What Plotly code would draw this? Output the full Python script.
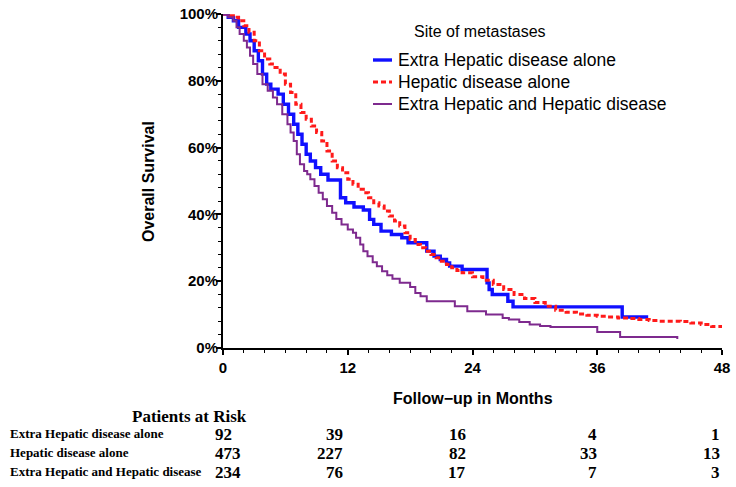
import plotly.graph_objects as go

# Kaplan-Meier estimates (months, % surviving) by site of metastases
group_names = ["Extra Hepatic disease alone", "Hepatic disease alone",
               "Extra Hepatic and Hepatic disease"]

extra_t = [0, 0.5, 1.0, 1.5, 2.2, 2.6, 3.0, 3.4, 3.8, 4.2, 4.6, 5.3, 5.8, 6.3,
           6.8, 7.2, 7.6, 8.0, 8.4, 8.9, 9.4, 10.1, 11.3, 11.8, 12.6, 13.5,
           14.1, 14.5, 15.2, 16.2, 17.2, 17.8, 19.6, 20.3, 20.9, 21.5, 21.8,
           23.0, 25.4, 25.6, 25.9, 27.4, 27.9, 38.4, 40.9]
extra_s = [100, 99, 98, 96, 94, 92, 89, 86, 82, 79, 77.5, 76, 73, 70,
           67, 64, 61, 58, 56, 54, 52, 50.3, 45, 43.5, 42.2, 41.3,
           38.5, 37, 35, 34, 33, 31.5, 29, 27.5, 26.5, 25.5, 24.5,
           23.5, 19.5, 17.5, 16, 14, 12.3, 9.3, 9.3]

hep_t = [0, 0.5, 1, 1.5, 2, 2.5, 3, 3.5, 4, 4.5, 5, 5.5, 6, 6.5, 7, 7.5, 8,
         8.5, 9, 9.5, 10, 10.5, 11, 11.5, 12, 12.5, 13, 13.5, 14, 14.5, 15,
         15.5, 16, 16.5, 17, 17.5, 18, 18.5, 19, 19.5, 20, 20.5, 21, 21.5,
         22, 22.5, 23, 24, 25, 26, 27, 28, 29, 30, 31, 32, 33, 34, 35, 36,
         37, 38, 39, 40, 41, 42, 43, 44, 45, 46, 47, 48]
hep_s = [100, 99.5, 99, 98, 96.5, 94.5, 92, 89, 86.5, 85, 84, 82, 79, 76.5,
         73, 70.5, 68.5, 66.5, 64.5, 62, 59, 56, 54, 52.5, 50.5, 49, 47.5,
         46.5, 45, 43.5, 42.5, 41, 39.5, 38, 36.5, 34.5, 32.5, 31, 30, 29,
         28, 27, 26, 25, 24, 23.2, 22.5, 21.3, 20.3, 19, 17.5, 16, 14.8,
         13.6, 12.5, 11.3, 10.7, 10.2, 9.8, 9.5, 9.3, 9, 8.8, 8.5, 8.2, 8,
         8, 7.9, 7.5, 7, 6.4, 5.8]

both_t = [0, 0.5, 1, 1.3, 1.6, 2, 2.3, 2.6, 2.9, 3.3, 3.8, 4.3, 4.8, 5.2,
          5.7, 6.2, 6.5, 6.8, 7.1, 7.4, 7.8, 8.1, 8.4, 8.8, 9.2, 9.6, 10.0,
          10.5, 10.9, 11.4, 12.0, 12.5, 12.8, 13.2, 13.5, 13.9, 14.4, 14.8,
          15.3, 15.8, 16.3, 17.0, 18.0, 18.5, 19.0, 19.6, 22.3, 23.5, 25.3,
          26.9, 27.5, 28.5, 29.5, 30.5, 31.5, 36.0, 38.2, 43.2, 43.7]
both_s = [100, 99, 98, 96, 94, 92, 90, 87.5, 85, 82, 79, 77, 75, 73,
          70, 67, 64.5, 62, 58, 55, 53, 52, 50.5, 48.5, 46.5, 44.5, 42.5,
          40.5, 38.6, 37, 35.5, 34.5, 33, 31, 29, 27.5, 25.7, 24.5,
          23, 21.8, 20.7, 19.5, 18.3, 16.5, 15.5, 14, 12.5, 11, 10,
          9, 8.5, 7.8, 7, 6.6, 6.3, 4.8, 3.3, 3.3, 2.7]

# Numbers at risk
risk_times = [0, 12, 24, 36, 48]
risk_extra = [92, 39, 16, 4, 1]
risk_hep = [473, 227, 82, 33, 13]
risk_both = [234, 76, 17, 7, 3]

x_ticks = [0, 12, 24, 36, 48]
y_ticks = [0, 20, 40, 60, 80, 100]
y_tick_text = ["0%", "20%", "40%", "60%", "80%", "100%"]

BLUE = "#1010ff"
RED = "#ff1a1a"
PURPLE = "#7e2a8e"
SANS = "Liberation Sans, Arial, sans-serif"
SERIF = "Liberation Serif, Times New Roman, serif"

series = [
    (extra_t, extra_s, dict(color=BLUE, width=3.4)),
    (hep_t, hep_s, dict(color=RED, width=3, dash="5px,3px")),
    (both_t, both_s, dict(color=PURPLE, width=2)),
]

fig = go.Figure()
for name, (t, s, line) in zip(group_names, series):
    fig.add_trace(go.Scatter(x=t, y=s, mode="lines", name=name,
                             line=dict(shape="hv", **line),
                             showlegend=False, hoverinfo="skip"))

axis_common = dict(showgrid=False, zeroline=False, showline=True,
                   linecolor="black", linewidth=2, ticks="outside",
                   tickcolor="black", tickwidth=1.5, ticklen=5,
                   tickfont=dict(family=SANS, size=15, color="black",
                                 weight="bold"))

fig.update_xaxes(range=[0, 48], tickvals=x_ticks,
                 minor=dict(dtick=2, ticks="outside", ticklen=3,
                            tickcolor="black", tickwidth=1.2),
                 ticklabelstandoff=0, **axis_common)
fig.update_yaxes(range=[0, 100], tickvals=y_ticks, ticktext=y_tick_text,
                 minor=dict(dtick=4, ticks="outside", ticklen=3,
                            tickcolor="black", tickwidth=1.2),
                 ticklabelstandoff=-5, **axis_common)

PLOT_L, PLOT_R, PLOT_T, PLOT_B = 223, 722, 14, 348
W, H = 736, 487


def px_x(px):
    return (px - PLOT_L) / (PLOT_R - PLOT_L)


def px_y(py):
    return (PLOT_B - py) / (PLOT_B - PLOT_T)


annotations = []
# Axis titles
annotations.append(dict(text="Overall Survival", xref="paper", yref="paper",
                        x=px_x(148), y=px_y(182), textangle=-90,
                        showarrow=False, xanchor="center", yanchor="middle",
                        font=dict(family=SANS, size=16, color="black",
                                  weight="bold")))
annotations.append(dict(text="Follow\u2212up in Months", xref="paper",
                        yref="paper", x=0.5, y=px_y(398), showarrow=False,
                        xanchor="center", yanchor="middle",
                        font=dict(family=SANS, size=16, color="black",
                                  weight="bold")))

# Legend drawn inside the plot area
annotations.append(dict(text="Site of metastases", xref="paper", yref="paper",
                        x=px_x(480), y=px_y(31), showarrow=False,
                        xanchor="center", yanchor="middle",
                        font=dict(family=SANS, size=16, color="black")))
legend_rows_px = [60, 82, 104]
shapes = []
for name, (_, _, line), py in zip(group_names, series, legend_rows_px):
    shapes.append(dict(type="line", xref="paper", yref="paper",
                       x0=px_x(373), x1=px_x(392), y0=px_y(py), y1=px_y(py),
                       line=dict(color=line["color"], width=line["width"],
                                 dash=line.get("dash", "solid"))))
    annotations.append(dict(text=name, xref="paper", yref="paper",
                            x=px_x(396), y=px_y(py), showarrow=False,
                            xanchor="left", yanchor="middle",
                            font=dict(family=SANS, size=17.5,
                                      color="black")))

# Patients-at-risk table
annotations.append(dict(text="<b>Patients at Risk</b>", xref="paper",
                        yref="paper", x=px_x(189), y=px_y(416),
                        showarrow=False, xanchor="center", yanchor="middle",
                        font=dict(family=SERIF, size=17, color="black")))
row_px = [433, 452, 471]
col_shift = [-10, -3, -5, 2, 0]
for name, counts, py in zip(group_names, [risk_extra, risk_hep, risk_both],
                            row_px):
    annotations.append(dict(text="<b>" + name + "</b>", xref="paper",
                            yref="paper", x=px_x(8), y=px_y(py),
                            showarrow=False, xanchor="left",
                            yanchor="middle",
                            font=dict(family=SERIF, size=13, color="black")))
    for i, (t, n) in enumerate(zip(risk_times, counts)):
        annotations.append(dict(text="<b>%d</b>" % n, xref="x", yref="paper",
                                x=t, y=px_y(py + 1), showarrow=False,
                                xanchor="left" if i == 0 else "right",
                                xshift=col_shift[i], yanchor="middle",
                                font=dict(family=SERIF, size=17,
                                          color="black")))

fig.update_layout(width=W, height=H,
                  margin=dict(l=PLOT_L, r=W - PLOT_R, t=PLOT_T, b=H - PLOT_B,
                              pad=0, autoexpand=False),
                  paper_bgcolor="white", plot_bgcolor="white",
                  annotations=annotations, shapes=shapes, showlegend=False)

fig.write_html("out.html")
